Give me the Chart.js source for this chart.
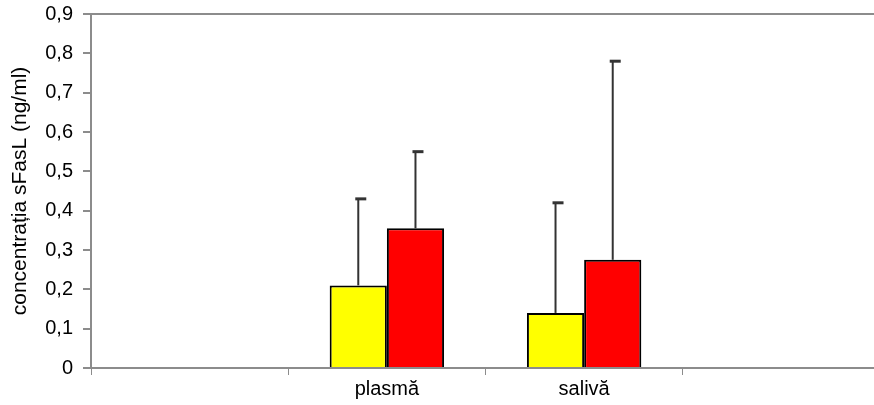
<!DOCTYPE html>
<html>
  <head>
    <meta charset="utf-8" />
    <script src="https://cdn.jsdelivr.net/npm/chart.js"></script>
    <style>
      body { margin: 0; overflow: hidden; background: #fff; }
      #wrap { width: 884px; height: 405px; }
    </style>
  </head>
  <body>
    <div id="wrap"><canvas id="chart"></canvas></div>
  </body>
  <script>
    // categories (first and last slots are empty, as in the original)
    var categories = ["", "plasmă", "salivă", ""];
    var yellowValues = [null, 0.21, 0.14, null];
    var redValues = [null, 0.355, 0.275, null];
    // upper end of the error bars
    var yellowErrTop = [null, 0.43, 0.42, null];
    var redErrTop = [null, 0.55, 0.78, null];
    var yTicks = [0, 0.1, 0.2, 0.3, 0.4, 0.5, 0.6, 0.7, 0.8, 0.9];

    var axisGray = "#8c8c8c";
    var fontFam = "'Liberation Sans', Arial, sans-serif";

    const errorBars = {
      id: "errorBars",
      afterDatasetsDraw(chart) {
        const ctx = chart.ctx;
        const y = chart.scales.y;
        const tops = [yellowErrTop, redErrTop];
        ctx.save();
        ctx.strokeStyle = "#333";
        chart.data.datasets.forEach(function (ds, di) {
          const meta = chart.getDatasetMeta(di);
          meta.data.forEach(function (bar, i) {
            if (ds.data[i] == null || tops[di][i] == null) return;
            const yt = y.getPixelForValue(tops[di][i]);
            ctx.lineWidth = 2;
            ctx.beginPath();
            ctx.moveTo(bar.x, bar.y);
            ctx.lineTo(bar.x, yt);
            ctx.stroke();
            ctx.lineWidth = 3;
            ctx.beginPath();
            ctx.moveTo(bar.x - 3, yt);
            ctx.lineTo(bar.x + 8, yt);
            ctx.stroke();
          });
        });
        ctx.restore();
      },
    };

    new Chart(document.getElementById("chart"), {
      type: "bar",
      data: {
        labels: categories,
        datasets: [
          {
            label: "Seria 1",
            data: yellowValues,
            backgroundColor: "#ffff00",
            borderColor: "#000",
            borderWidth: 2,
          },
          {
            label: "Seria 2",
            data: redValues,
            backgroundColor: "#ff0000",
            borderColor: "#000",
            borderWidth: 2,
          },
        ],
      },
      options: {
        responsive: true,
        maintainAspectRatio: false,
        animation: false,
        categoryPercentage: 0.58,
        barPercentage: 1.0,
        layout: { padding: { top: 14, right: 4, left: 0, bottom: 0 } },
        plugins: {
          legend: { display: false },
          tooltip: { enabled: false },
        },
        scales: {
          x: {
            grid: {
              offset: true,
              color: "transparent",
              tickColor: axisGray,
              tickLength: 7,
              drawOnChartArea: false,
            },
            border: { color: axisGray, width: 2 },
            ticks: {
              color: "#000",
              font: { family: fontFam, size: 20 },
              padding: 2,
            },
            afterFit(scale) {
              scale.height = 37;
            },
          },
          y: {
            min: 0,
            max: 0.9,
            afterBuildTicks(scale) {
              scale.ticks = yTicks.map(function (v) { return { value: v }; });
            },
            grid: {
              color: function (c) {
                return c.tick && c.tick.value === 0.9 ? axisGray : "transparent";
              },
              lineWidth: 2,
              tickColor: axisGray,
              tickLength: 8,
            },
            border: { color: axisGray, width: 2 },
            ticks: {
              color: "#000",
              font: { family: fontFam, size: 20 },
              padding: 10,
              callback: function (v) {
                return v === 0 ? "0" : v.toFixed(1).replace(".", ",");
              },
            },
            title: {
              display: true,
              text: "concentrația sFasL (ng/ml)",
              color: "#000",
              font: { family: fontFam, size: 21 },
              padding: { top: 8, bottom: 0 },
            },
            afterFit(scale) {
              scale.width = 91;
              scale.paddingTop = 0;
              scale.paddingBottom = 0;
            },
          },
        },
      },
      plugins: [errorBars],
    });
  </script>
</html>
